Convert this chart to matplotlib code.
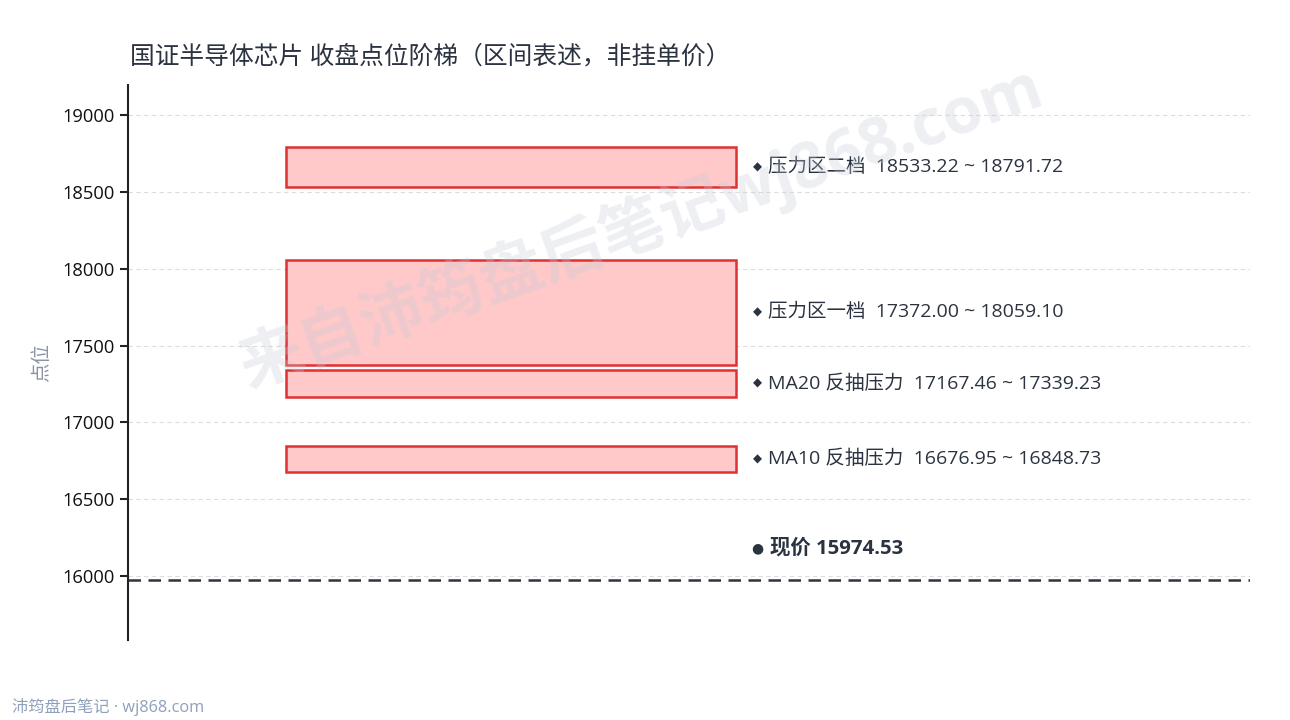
import matplotlib
matplotlib.use('Agg')
import matplotlib.pyplot as plt
from matplotlib.patches import Rectangle

plt.rcParams['font.family'] = ['Open Sans', 'Noto Sans CJK SC', 'DejaVu Sans']

# 区间数据
zone_names = ['压力区二档', '压力区一档', 'MA20 反抽压力', 'MA10 反抽压力']
zone_low = [18533.22, 17372.00, 17167.46, 16676.95]
zone_high = [18791.72, 18059.10, 17339.23, 16848.73]
price = 15974.53
y_ticks = [16000, 16500, 17000, 17500, 18000, 18500, 19000]

fig = plt.figure(figsize=(12.9, 7.2), dpi=100)
ax = fig.add_axes([0.0992, 0.111, 0.8698, 0.771])

box_x0, box_x1 = 0.141, 0.542
for name, lo, hi in zip(zone_names, zone_low, zone_high):
    ax.add_patch(Rectangle((box_x0, lo), box_x1 - box_x0, hi - lo,
                           facecolor='#ffc9c9', edgecolor='#e03131', linewidth=1.8, zorder=3))
    ax.text(0.5608, (lo + hi) / 2, '◆', fontsize=8.5, color='#2b3340',
            ha='center', va='center', family=['DejaVu Sans'], zorder=4)
    ax.text(0.5705, (lo + hi) / 2, f'{name}  {lo:.2f} ~ {hi:.2f}', fontsize=14,
            color='#2b3340', ha='left', va='center', zorder=4)

ax.axhline(price, color='#2d3440', linestyle=(0, (5, 3)), linewidth=1.8, zorder=2)
ax.text(0.5608, price + 205, '●', fontsize=10, color='#2b3340', ha='center', va='center',
        family=['DejaVu Sans'])
ax.text(0.5725, price + 205, f'现价 {price:.2f}', fontsize=14.7, fontweight='bold',
        color='#2b3340', ha='left', va='center')

ax.set_xlim(0, 1)
ax.set_ylim(15584, 19195)
ax.set_yticks(y_ticks)
ax.set_xticks([])
ax.tick_params(axis='y', labelsize=13.2, colors='#222222', length=6, width=1.5)
for lab in ax.get_yticklabels():
    lab.set_color('#111111')
ax.grid(axis='y', color='#dddddd', linestyle=(0, (4, 3)), linewidth=0.8, zorder=0)
ax.set_axisbelow(True)
for s in ['top', 'right', 'bottom']:
    ax.spines[s].set_visible(False)
ax.spines['left'].set_color('#222222')
ax.spines['left'].set_linewidth(1.5)
ax.set_ylabel('点位', fontsize=14, color='#8a93a6', labelpad=8)

fig.text(0.101, 0.921, '国证半导体芯片 收盘点位阶梯（区间表述，非挂单价）', fontsize=17.8,
         color='#2b3340', ha='left', va='center')
fig.text(0.009, 0.018, '沛筠盘后笔记 · wj868.com', fontsize=11.7, color='#8fa0ba',
         ha='left', va='center')

# 水印
fig.text(0.497, 0.685, '来自沛筠盘后笔记wj868.com', fontsize=46, fontweight='bold',
         color='#c5cad8', alpha=0.3, rotation=19.6, ha='center', va='center', zorder=10)

fig.savefig('out.png', dpi=100, facecolor='white')
